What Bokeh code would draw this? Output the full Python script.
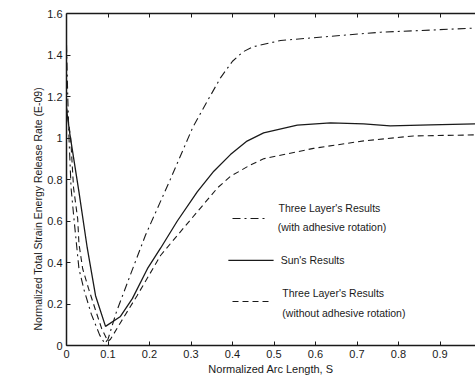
from bokeh.plotting import figure
from bokeh.models import Range1d, FixedTicker, LinearAxis, Title
from bokeh.core.properties import value
from bokeh.embed import file_html
from bokeh.resources import INLINE

# ---- data ----
sun_s = [0, 0.008, 0.03, 0.05, 0.07, 0.094, 0.13, 0.159, 0.195, 0.227, 0.267, 0.315, 0.355,
         0.395, 0.435, 0.475, 0.556, 0.636, 0.716, 0.78, 0.877, 0.985]
sun_g = [1.14, 1.02, 0.74, 0.47, 0.24, 0.092, 0.14, 0.227, 0.37, 0.47, 0.60, 0.74, 0.84,
         0.92, 0.985, 1.025, 1.062, 1.073, 1.068, 1.058, 1.063, 1.068]

with_s = [0, 0.003, 0.006, 0.011, 0.018, 0.024, 0.03, 0.042, 0.06, 0.08, 0.092, 0.1, 0.12,
          0.15, 0.19, 0.25, 0.304, 0.34, 0.371, 0.40, 0.425, 0.45, 0.516, 0.636, 0.757, 0.877, 0.985]
with_g = [1.45, 1.2, 1.0, 0.76, 0.61, 0.49, 0.37, 0.27, 0.15, 0.05, 0.01, 0.03, 0.16,
          0.32, 0.53, 0.80, 1.05, 1.18, 1.29, 1.37, 1.415, 1.44, 1.47, 1.49, 1.51, 1.52, 1.53]

without_s = [0, 0.01, 0.017, 0.027, 0.03, 0.039, 0.053, 0.07, 0.085, 0.1, 0.106, 0.13, 0.17,
             0.227, 0.282, 0.364, 0.395, 0.443, 0.475, 0.595, 0.716, 0.836, 0.985]
without_g = [1.15, 1.0, 0.76, 0.61, 0.49, 0.37, 0.275, 0.17, 0.08, 0.02, 0.03, 0.11, 0.24,
             0.435, 0.566, 0.76, 0.815, 0.87, 0.9, 0.95, 0.986, 1.01, 1.015]

x_ticks = [0, 0.1, 0.2, 0.3, 0.4, 0.5, 0.6, 0.7, 0.8, 0.9]
x_tick_labels = ["0", "0.1", "0.2", "0.3", "0.4", "0.5", "0.6", "0.7", "0.8", "0.9"]
y_ticks = [0, 0.2, 0.4, 0.6, 0.8, 1.0, 1.2, 1.4, 1.6]
y_tick_labels = ["0", "0.2", "0.4", "0.6", "0.8", "1", "1.2", "1.4", "1.6"]

x_title = "Normalized Arc Length, S"
y_title = "Normalized Total Strain Energy Release Rate (E-09)"
legend_labels = ["Three Layer's Results", "(with adhesive rotation)", "Sun's Results",
                 "Three Layer's Results", "(without adhesive rotation)"]

FONT = "Liberation Sans"
INK = "#1a1a1a"

p = figure(width=475, height=382, output_backend="svg", toolbar_location=None,
           x_range=Range1d(0, 0.9855), y_range=Range1d(0, 1.6),
           min_border_left=66, min_border_right=0, min_border_top=13, min_border_bottom=37,
           background_fill_color="white", border_fill_color="white")
p.outline_line_color = None
p.grid.visible = False

for ax, ticks, labels in ((p.xaxis, x_ticks, x_tick_labels), (p.yaxis, y_ticks, y_tick_labels)):
    ax.ticker = FixedTicker(ticks=ticks)
    ax.major_label_overrides = {t: l for t, l in zip(ticks, labels)}
    ax.major_tick_in = 4
    ax.major_tick_out = 0
    ax.minor_tick_line_color = None
    ax.axis_line_color = INK
    ax.axis_line_width = 1.5
    ax.major_tick_line_color = INK
    ax.major_label_text_font = FONT
    ax.major_label_text_font_size = "11px"
    ax.major_label_text_color = INK
p.xaxis.major_label_standoff = 4
p.yaxis.major_label_standoff = 4

# top frame line with inward ticks only (minor ticks carry no labels)
top = LinearAxis(ticker=FixedTicker(ticks=[], minor_ticks=x_ticks[1:]),
                 minor_tick_in=4, minor_tick_out=0, major_tick_in=0, major_tick_out=0,
                 minor_tick_line_color=INK, axis_line_color=INK, axis_line_width=1.5,
                 major_label_standoff=0)
p.add_layout(top, "above")

# axis titles (slightly off-centre, as in the scanned original)
p.add_layout(Title(text=x_title, align="center", text_font=FONT,
                   text_font_size="11px", text_font_style="normal", text_color=INK,
                   standoff=1), "below")
p.add_layout(Title(text=y_title, align="left", offset=15, text_font=FONT,
                   text_font_size="10.5px", text_font_style="normal", text_color=INK,
                   standoff=2), "left")

# curves
p.line(with_s, with_g, line_color=INK, line_width=1.1, line_dash="8 4 2 4")
p.line(sun_s, sun_g, line_color=INK, line_width=1.3)
p.line(without_s, without_g, line_color=INK, line_width=1.1, line_dash="6 4")

# legend (manual, two-line labels)
p.line([0.40, 0.4795], [0.612, 0.612], line_color=INK, line_width=1.1, line_dash="8 4 2 4")
p.line([0.39, 0.499], [0.41, 0.41], line_color=INK, line_width=1.3)
p.line([0.40, 0.487], [0.212, 0.212], line_color=INK, line_width=1.1, line_dash="6 4")
p.text(x=[0.511, 0.509, 0.516, 0.52, 0.52], y=[0.665, 0.569, 0.41, 0.255, 0.159],
       text=legend_labels, text_font=value(FONT), text_font_size="10.5px",
       text_color=INK, text_align="left", text_baseline="middle")

open("out.html", "w").write(file_html(p, INLINE))
